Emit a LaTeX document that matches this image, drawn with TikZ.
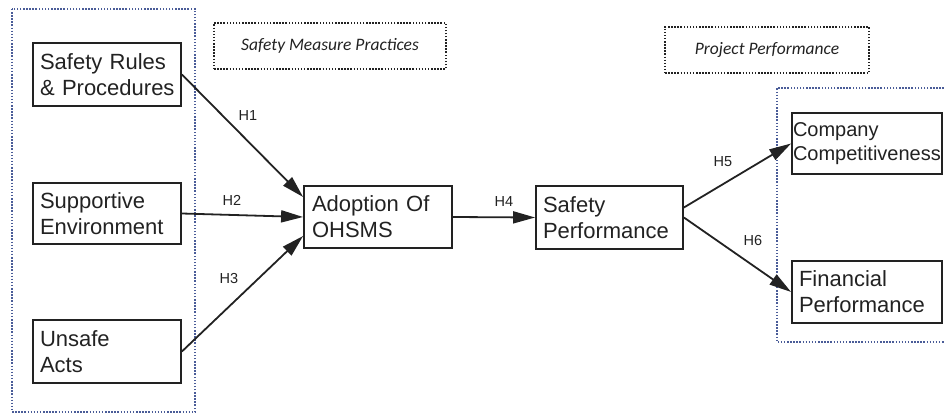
\documentclass[tikz,border=0pt]{standalone}
\usepackage{fontspec}
\setmainfont{Liberation Sans}
\newfontfamily\notefont{Carlito}
\usetikzlibrary{arrows.meta,calc}
\definecolor{ink}{HTML}{222222}
\definecolor{groupblue}{HTML}{4A5C98}
\hyphenpenalty=10000
\exhyphenpenalty=10000
\tikzset{
  box/.style={draw=ink, line width=1.8pt, text=ink, align=left,
    font=\fontsize{22}{26}\selectfont, inner ysep=0pt, inner xsep=7pt},
  link/.style={draw=ink, line width=1.8pt, -{Triangle[length=22pt,width=12pt]}},
  hyp/.style={text=ink, font=\fontsize{14.5}{16}\selectfont, inner sep=0pt},
  groupframe/.style={draw=groupblue, line width=1.5pt, dash pattern=on 1.5pt off 1.6pt},
  noteframe/.style={draw=ink, line width=1.5pt, dash pattern=on 1.5pt off 1.6pt,
    text=ink, font=\notefont\itshape\fontsize{17.5}{20}\selectfont},
}
\begin{document}
\begin{tikzpicture}[x=1pt,y=-1pt]
\useasboundingbox (0,0) rectangle (945,414);

% group frames
\draw[groupframe] (12,9) rectangle (195,412);
\draw[groupframe] (947,88) -- (777,88) -- (777,342) -- (947,342);

% headings of the two groups
\node[noteframe, minimum width=232pt, minimum height=46pt] (smp) at (330,46) {Safety Measure Practices};
\node[noteframe, minimum width=204pt, minimum height=46pt] (pp) at (767,50) {Project Performance};

% constructs
\node[box, minimum width=148pt, minimum height=63pt, text width=134pt] (sr) at (107,74.5) {Safety Rules\\\&~Procedures};
\node[box, minimum width=148pt, minimum height=61pt, text width=134pt] (sb) at (107,213.5) {Supportive\\Environment};
\node[box, minimum width=148pt, minimum height=63pt, text width=134pt] (ua) at (107,351.5) {Unsafe\\Acts};
\node[box, minimum width=148pt, minimum height=62pt, text width=132pt, inner xsep=8pt] (ad) at (378,217) {Adoption Of\\OHSMS};
\node[box, minimum width=147pt, minimum height=63pt, text width=133pt] (sp) at (609.5,217.5) {Safety\\Performance};
\node[box, minimum width=150pt, minimum height=61pt, text width=148pt, inner xsep=1pt,
      font=\fontsize{20}{24}\selectfont] (cc) at (867,143.5) {Company\\Competitiveness};
\node[box, minimum width=150pt, minimum height=62pt, text width=136pt] (fp) at (867,292) {Financial\\Performance};

% hypothesised paths
\draw[link] (sr.east) -- ($(ad.west)+(0,-20)$);
\draw[link] (sb.east) -- (ad.west);
\draw[link] (ua.east) -- ($(ad.west)+(0,19)$);
\draw[link] (ad.east) -- (sp.west);
\draw[link] ($(sp.east)+(0,-10)$) -- (cc.west);
\draw[link] (sp.east) -- (fp.west);

% path labels
\node[hyp] (h1) at (248,116) {H1};
\node[hyp] (h2) at (232,200) {H2};
\node[hyp] (h3) at (229,279) {H3};
\node[hyp] (h4) at (504,202) {H4};
\node[hyp] (h5) at (723,162) {H5};
\node[hyp] (h6) at (753,241) {H6};
\end{tikzpicture}
\end{document}
